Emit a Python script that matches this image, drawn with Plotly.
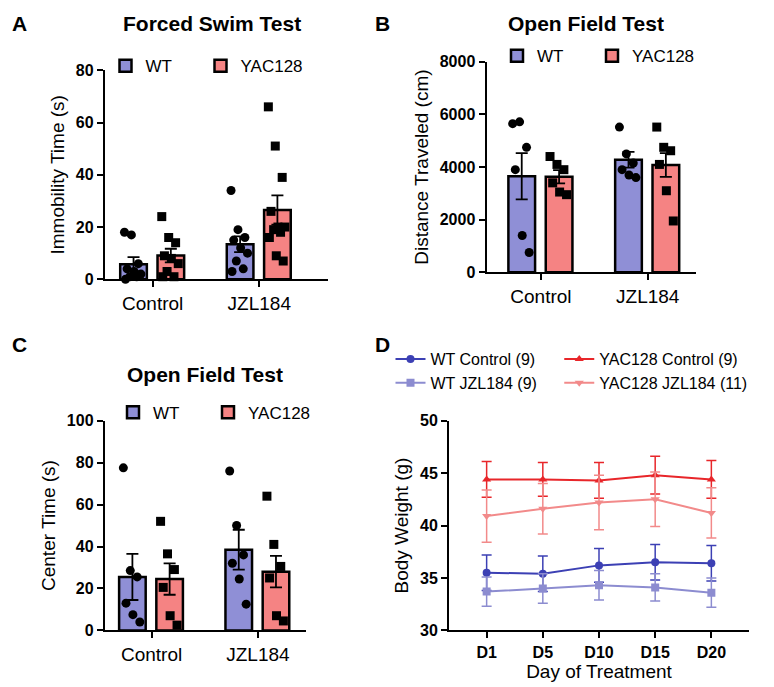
import numpy as np
import plotly.graph_objects as go

groups = ['Control', 'JZL184']
genotypes = ['WT', 'YAC128']

# A: forced swim, immobility time (s)
fst_mean = {'WT': [5.8, 13.4], 'YAC128': [9.1, 26.5]}
fst_sem = {'WT': [2.7, 3.0], 'YAC128': [2.6, 5.6]}
fst_pts = {
    'WT': [[18, 17, 6, 4, 3, 2, 1, 1, 0], [34, 19, 16, 15, 12, 10, 7, 4, 3]],
    'YAC128': [[24, 16, 14, 9, 8, 6, 3, 1, 1], [66, 51, 39, 26, 20, 20, 19, 18, 16, 9, 7]],
}
# B: open field, distance (cm)
dist_mean = {'WT': [3650, 4280], 'YAC128': [3630, 4080]}
dist_sem = {'WT': [880, 300], 'YAC128': [250, 450]}
dist_pts = {
    'WT': [[5650, 5720, 4750, 3900, 1400, 750], [5520, 4500, 4150, 3900, 3700, 3600]],
    'YAC128': [[4400, 4100, 3900, 3400, 3050, 2950], [5520, 4750, 4620, 4100, 3100, 1950]],
}
# C: open field, center time (s)
ct_mean = {'WT': [25.5, 38.5], 'YAC128': [24.5, 28.0]}
ct_sem = {'WT': [11.0, 9.5], 'YAC128': [7.5, 7.5]}
ct_pts = {
    'WT': [[77.5, 28.5, 25.5, 13, 7.5, 4], [76, 50, 36, 32, 24.5, 12.5]],
    'YAC128': [[52, 36.5, 29, 20.5, 7, 2.5], [64, 41, 30.5, 25, 7, 4.5]],
}
# D: body weight (g)
days = ['D1', 'D5', 'D10', 'D15', 'D20']
bw = {
    'WT Control (9)': ([35.5, 35.4, 36.2, 36.5, 36.4], [1.7, 1.7, 1.6, 1.7, 1.7]),
    'WT JZL184 (9)': ([33.7, 34.0, 34.3, 34.1, 33.6], [1.4, 1.4, 1.4, 1.3, 1.4]),
    'YAC128 Control (9)': ([44.4, 44.4, 44.3, 44.8, 44.4], [1.7, 1.6, 1.7, 1.8, 1.8]),
    'YAC128 JZL184 (11)': ([40.9, 41.6, 42.2, 42.5, 41.2], [2.5, 2.4, 2.6, 2.6, 2.4]),
}

BAR_COL = {'WT': '#8f8fd6', 'YAC128': '#f58383'}
SYM = {'WT': 'circle', 'YAC128': 'square'}
OFF = {'WT': -0.18, 'YAC128': 0.17}
LINE_STYLE = {
    'WT Control (9)': ('#3c40b4', 'circle', 'legend4'),
    'WT JZL184 (9)': ('#8c8cd0', 'square', 'legend4'),
    'YAC128 Control (9)': ('#e8262a', 'triangle-up', 'legend5'),
    'YAC128 JZL184 (11)': ('#f28a8a', 'triangle-down', 'legend5'),
}
FONT = 'Liberation Sans, Arial, sans-serif'

fig = go.Figure()


def bar_panel(ax, mean, sem, pts, legend):
    xa = 'x' if ax == 1 else f'x{ax}'
    ya = 'y' if ax == 1 else f'y{ax}'
    for g in genotypes:
        xs = [i + OFF[g] for i in range(len(groups))]
        fig.add_trace(go.Bar(
            x=xs, y=mean[g], width=0.25, name=g, legend=legend,
            marker=dict(color=BAR_COL[g], line=dict(color='black', width=2.5)),
            error_y=dict(type='data', array=sem[g], color='black', thickness=1.8, width=6),
            xaxis=xa, yaxis=ya))
        for i, vals in enumerate(pts[g]):
            n = len(vals)
            jit = ((np.arange(n) * 0.382) % 1 - 0.5) * 0.17
            fig.add_trace(go.Scatter(
                x=xs[i] + jit, y=vals, mode='markers', showlegend=False,
                marker=dict(color='black', size=9, symbol=SYM[g]),
                xaxis=xa, yaxis=ya, cliponaxis=False))
    # blank entry so the last legend label is not cut off
    fig.add_trace(go.Scatter(x=[None], y=[None], mode='markers', name=' ', legend=legend,
                             marker=dict(color='rgba(0,0,0,0)', size=1),
                             xaxis=xa, yaxis=ya, hoverinfo='skip'))


bar_panel(1, fst_mean, fst_sem, fst_pts, 'legend')
bar_panel(2, dist_mean, dist_sem, dist_pts, 'legend2')
bar_panel(3, ct_mean, ct_sem, ct_pts, 'legend3')

for name, (m, s) in bw.items():
    col, sym, leg = LINE_STYLE[name]
    fig.add_trace(go.Scatter(
        x=list(range(len(days))), y=m, name=name, legend=leg, mode='lines+markers',
        line=dict(color=col, width=2), marker=dict(color=col, size=8, symbol=sym),
        error_y=dict(type='data', array=s, color=col, thickness=1.5, width=5),
        xaxis='x4', yaxis='y4'))

ax_common = dict(showline=True, linecolor='black', linewidth=2, ticks='outside',
                 tickcolor='black', tickwidth=2, ticklen=6, showgrid=False, zeroline=False,
                 mirror=False)
xcat = dict(ax_common, tickvals=[0, 1], ticktext=groups, tickfont=dict(size=19, color='black'))
ybold = dict(ax_common, tickfont=dict(size=16, color='black', weight='bold'),
             title_font=dict(size=19, color='black'), title_standoff=6)

fig.update_layout(
    width=774, height=687, plot_bgcolor='white', paper_bgcolor='white',
    font=dict(family=FONT, color='black'), margin=dict(l=0, r=0, t=0, b=0),
    barmode='overlay',
    xaxis=dict(xcat, domain=[0.129, 0.426], range=[-0.45, 1.64], anchor='y'),
    yaxis=dict(ybold, domain=[0.607, 0.919], range=[0, 80], tickvals=[0, 20, 40, 60, 80],
               title_text='Immobility Time (s)', anchor='x'),
    xaxis2=dict(xcat, domain=[0.638, 0.917], range=[-0.51, 1.45], anchor='y2'),
    yaxis2=dict(ybold, domain=[0.6175, 0.9316], range=[0, 8000],
                tickvals=[0, 2000, 4000, 6000, 8000], title_text='Distance Traveled (cm)', anchor='x2'),
    xaxis3=dict(xcat, domain=[0.129, 0.397], range=[-0.44, 1.45], anchor='y3'),
    yaxis3=dict(ybold, domain=[0.083, 0.396], range=[0, 100],
                tickvals=[0, 20, 40, 60, 80, 100], title_text='Center Time (s)', anchor='x3'),
    xaxis4=dict(ax_common, domain=[0.588, 0.988], range=[-0.67, 4.67], anchor='y4',
                tickvals=list(range(len(days))), ticktext=days,
                tickfont=dict(size=16, color='black', weight='bold'),
                title_text='Day of Treatment', title_font=dict(size=19, color='black'),
                title_standoff=2),
    yaxis4=dict(ybold, domain=[0.083, 0.396], range=[30, 50],
                tickvals=[30, 35, 40, 45, 50], title_text='Body Weight (g)', anchor='x4'),
)

leg_base = dict(orientation='h', xanchor='left', yanchor='middle', bgcolor='rgba(0,0,0,0)',
                font=dict(size=17, color='black'), itemwidth=30, entrywidth=50,
                entrywidthmode='pixels')
fig.update_layout(
    legend=dict(leg_base, x=0.13, y=0.925),
    legend2=dict(leg_base, x=0.652, y=0.94),
    legend3=dict(leg_base, x=0.14, y=0.408),
    legend4=dict(orientation='v', x=0.51, y=0.47, xanchor='left', yanchor='middle',
                 font=dict(size=16, color='black'), bgcolor='rgba(0,0,0,0)', tracegroupgap=0),
    legend5=dict(orientation='v', x=0.735, y=0.47, xanchor='left', yanchor='middle',
                 font=dict(size=16, color='black'), bgcolor='rgba(0,0,0,0)', tracegroupgap=0),
)

titles = [('Forced Swim Test', 0.272, 1.0), ('Open Field Test', 0.77, 1.0),
          ('Open Field Test', 0.263, 0.465)]
for txt, x, y in titles:
    fig.add_annotation(text=f'<b>{txt}</b>', x=x, y=y, xref='paper', yref='paper',
                       xanchor='center', yanchor='top' if y == 1.0 else 'middle',
                       yshift=6 if y == 1.0 else 0,
                       showarrow=False, font=dict(size=21, color='black'))
for txt, x, y in [('A', 0.002, 1.0), ('B', 0.487, 1.0), ('C', 0.002, 0.53), ('D', 0.487, 0.53)]:
    fig.add_annotation(text=f'<b>{txt}</b>', x=x, y=y, xref='paper', yref='paper',
                       xanchor='left', yanchor='top', showarrow=False,
                       yshift=6 if y == 1.0 else 0,
                       font=dict(size=21, color='black'))

fig.write_html('out.html')
